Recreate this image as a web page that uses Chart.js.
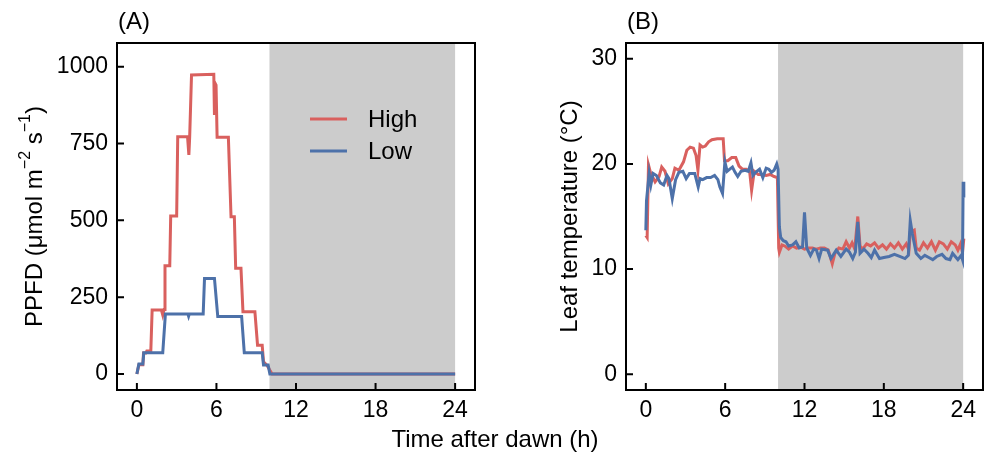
<!DOCTYPE html>
<html>
<head>
<meta charset="utf-8">
<script src="https://cdn.jsdelivr.net/npm/chart.js@4.4.1/dist/chart.umd.min.js"></script>
<style>
  html, body { margin: 0; padding: 0; background: #fff; }
  #wrap { position: relative; width: 987px; height: 460px; }
  #wrap canvas { position: absolute; left: 0; top: 0; }
</style>
</head>
<body>
<div id="wrap">
  <canvas id="ppfdChart" width="987" height="460"></canvas>
  <canvas id="tempChart" width="987" height="460"></canvas>
</div>
<script>
const FONT = "'Liberation Sans', Arial, sans-serif";
const RED = '#d9605e';
const BLUE = '#4d71a9';

// tick labels
const hourTicks = [0, 6, 12, 18, 24];
const ppfdTicks = [0, 250, 500, 750, 1000];
const tempTicks = [0, 10, 20, 30];

// dark period (h after dawn)
const nightStart = 10;
const nightEnd = 24;

// (A) PPFD, umol m-2 s-1
const ppfdHighTime = [0, 0.15, 0.45, 0.5, 0.68, 0.75, 1.05, 1.15, 1.85, 1.95, 2.05, 2.12, 2.48, 2.55, 3.0, 3.08, 3.82, 3.92, 3.98, 4.12,
  5.8, 5.85, 5.9, 5.97, 6.05, 6.9, 7.1, 7.35, 7.45, 7.85, 8.0, 8.9, 9.1, 9.45, 9.55, 9.8, 10.2, 24];
const ppfdHigh = [0, 30, 30, 68, 68, 75, 75, 208, 208, 192, 210, 352, 352, 514, 514, 772, 772, 713, 770, 973,
  975, 843, 946, 940, 770, 770, 512, 512, 344, 344, 203, 203, 94, 94, 40, 29, 0, 0];
const ppfdLowTime = [0, 0.15, 0.45, 0.52, 1.95, 2.15, 3.85, 3.9, 3.95, 5.0, 5.1, 5.85, 6.1, 7.9, 8.1, 9.45, 9.55, 9.9, 10.03, 24];
const ppfdLow = [0, 33, 33, 69, 69, 195, 195, 188, 195, 195, 311, 311, 187, 187, 69, 69, 29, 29, 0, 0];

// (B) leaf temperature, deg C
const tempHighTime = [0, 0.1, 0.2, 0.35, 0.7, 1.0, 1.2, 1.45, 1.7, 2.0, 2.2, 2.5, 2.85, 3.1, 3.35, 3.6, 3.8, 3.94, 4.1, 4.3,
  4.5, 4.75, 5.0, 5.4, 5.85, 5.95, 6.2, 6.5, 6.8, 7.05, 7.3, 7.6, 7.85, 8.0, 8.2, 8.5, 8.8, 9.1, 9.4, 9.7,
  9.95, 10.05, 10.1, 10.3, 10.5, 10.8, 11.1, 11.4, 11.7, 12.0, 12.3, 12.6, 12.9, 13.2, 13.5, 13.8, 14.1, 14.3, 14.6, 14.9,
  15.15, 15.4, 15.6, 15.8, 16.03, 16.2, 16.4, 16.7, 17.0, 17.3, 17.6, 17.9, 18.2, 18.5, 18.8, 19.1, 19.4, 19.7, 19.9, 20.0,
  20.3, 20.45, 20.7, 21.0, 21.3, 21.6, 21.9, 22.2, 22.5, 22.8, 23.1, 23.4, 23.6, 23.8, 23.95, 24.05];
const tempHigh = [13.2, 13.0, 19.9, 19.2, 18.3, 18.8, 19.7, 19.3, 18.1, 18.6, 19.6, 19.4, 20.2, 21.3, 21.6, 21.5, 20.8, 19.4, 21.8, 21.6,
  21.7, 22.1, 22.3, 22.4, 22.4, 20.3, 20.3, 20.6, 20.6, 19.8, 19.5, 19.5, 19.3, 17.5, 19.3, 19.0, 19.0, 18.9, 19.0, 18.8,
  18.7, 12.0, 11.6, 12.3, 12.2, 11.9, 12.2, 12.0, 12.1, 11.9, 12.0, 12.0, 11.9, 12.0, 12.0, 11.8, 10.5, 11.5, 12.0, 11.9,
  12.6, 12.0, 12.5, 11.9, 15.0, 12.2, 11.9, 12.4, 12.2, 12.5, 12.0, 12.3, 11.9, 12.4, 12.0, 12.5, 11.9, 12.4, 11.8, 13.5,
  13.7, 12.0, 11.8, 12.5, 12.0, 12.6, 11.8, 12.6, 12.4, 11.9, 12.6, 12.3, 11.8, 12.4, 11.6, 12.9];
const tempLowTime = [0, 0.05, 0.25, 0.38, 0.55, 0.8, 1.1, 1.35, 1.6, 1.75, 2.0, 2.25, 2.5, 2.8, 3.05, 3.3, 3.7, 3.96, 4.1, 4.3,
  4.6, 4.9, 5.2, 5.45, 5.6, 5.8, 5.98, 6.15, 6.35, 6.55, 6.75, 6.95, 7.2, 7.5, 7.75, 7.95, 8.1, 8.3, 8.6, 8.85,
  9.1, 9.3, 9.5, 9.7, 9.9, 10.0, 10.1, 10.2, 10.4, 10.6, 10.8, 11.1, 11.35, 11.6, 11.85, 12.0, 12.17, 12.45, 12.7, 12.9,
  13.1, 13.3, 13.75, 14.0, 14.4, 14.75, 15.15, 15.4, 15.65, 15.85, 16.03, 16.2, 16.5, 16.8, 17.05, 17.3, 17.67, 18.0, 18.4, 18.8,
  19.2, 19.6, 19.85, 20.0, 20.15, 20.45, 20.8, 21.1, 21.4, 21.7, 22.0, 22.4, 22.7, 23.0, 23.2, 23.4, 23.6, 23.85, 23.95, 24.0, 24.05];
const tempLow = [13.7, 16.5, 19.1, 18.0, 19.1, 18.9, 18.2, 18.0, 18.9, 18.6, 16.7, 18.5, 19.2, 19.3, 18.6, 19.1, 19.1, 17.8, 18.6, 18.5,
  18.7, 18.7, 18.9, 18.5, 17.8, 17.2, 20.2, 19.3, 19.5, 19.7, 19.2, 18.8, 19.3, 19.4, 19.3, 20.1, 18.9, 19.2, 19.5, 18.7,
  19.6, 19.5, 19.2, 19.4, 20.0, 19.5, 14.0, 13.0, 12.7, 12.6, 12.2, 12.3, 12.6, 12.0, 12.1, 15.4, 12.0, 11.3, 11.9, 11.8,
  11.0, 11.9, 11.8, 11.0, 11.8, 11.2, 11.9, 11.6, 11.0, 11.6, 14.5, 11.5, 11.9, 11.5, 11.1, 11.8, 11.0, 11.1, 11.2, 11.4,
  11.2, 11.0, 11.3, 14.6, 13.4, 11.5, 11.0, 11.3, 11.1, 10.9, 11.2, 11.4, 11.0, 10.9, 11.5, 11.2, 10.9, 11.3, 10.9, 18.3, 16.8];

function pts(ts, vs) {
  return ts.map((t, i) => ({ x: t, y: vs[i] }));
}

// draw a line of text where some parts are superscripts
function drawRich(ctx, parts, cx, cy, size, rotate) {
  const big = `${size}px ${FONT}`;
  const small = `${Math.round(size * 0.68)}px ${FONT}`;
  ctx.save();
  ctx.translate(cx, cy);
  if (rotate) ctx.rotate(-Math.PI / 2);
  let total = 0;
  parts.forEach(p => {
    ctx.font = p.sup ? small : big;
    p.w = ctx.measureText(p.t).width;
    total += p.w;
  });
  let x = -total / 2;
  ctx.fillStyle = '#000';
  ctx.textBaseline = 'middle';
  ctx.textAlign = 'left';
  parts.forEach(p => {
    ctx.font = p.sup ? small : big;
    ctx.fillText(p.t, x, p.sup ? -size * 0.38 : 0);
    x += p.w;
  });
  ctx.restore();
}

const panelDeco = {
  id: 'panelDeco',
  beforeDatasetsDraw(chart, args, opts) {
    const { ctx, chartArea: a, scales: { x } } = chart;
    const x0 = x.getPixelForValue(nightStart);
    const x1 = x.getPixelForValue(nightEnd);
    ctx.save();
    ctx.fillStyle = '#cccccc';
    ctx.fillRect(x0, a.top, x1 - x0, a.bottom - a.top);
    ctx.restore();
  },
  afterDraw(chart, args, opts) {
    const { ctx, chartArea: a, scales: { x, y } } = chart;
    ctx.save();
    ctx.strokeStyle = '#000';
    ctx.lineWidth = 2;
    ctx.strokeRect(a.left, a.top, a.right - a.left, a.bottom - a.top);
    // inward tick marks
    ctx.beginPath();
    x.ticks.forEach(t => {
      const px = x.getPixelForValue(t.value);
      ctx.moveTo(px, a.bottom);
      ctx.lineTo(px, a.bottom - 7);
    });
    y.ticks.forEach(t => {
      const py = y.getPixelForValue(t.value);
      ctx.moveTo(a.left, py);
      ctx.lineTo(a.left + 7, py);
    });
    ctx.stroke();

    ctx.fillStyle = '#000';
    ctx.font = `24px ${FONT}`;
    ctx.textBaseline = 'middle';
    ctx.textAlign = 'left';
    ctx.fillText(opts.label, a.left + 1, 22);

    drawRich(ctx, opts.yTitle, opts.yTitleX, (a.top + a.bottom) / 2, 24, true);

    if (opts.xTitle) {
      drawRich(ctx, [{ t: opts.xTitle }], 495, 440, 24, false);
    }

    if (opts.legend) {
      chart.data.datasets.forEach((ds, i) => {
        const ly = 119 + i * 32;
        ctx.strokeStyle = ds.borderColor;
        ctx.lineWidth = 3;
        ctx.beginPath();
        ctx.moveTo(310, ly);
        ctx.lineTo(347, ly);
        ctx.stroke();
        ctx.fillStyle = '#000';
        ctx.fillText(ds.label, 368, ly + 1);
      });
    }
    ctx.restore();
  }
};

function makeChart(id, cfg) {
  const tickFont = { family: FONT, size: 23 };
  return new Chart(document.getElementById(id), {
    type: 'line',
    data: {
      datasets: [
        { label: 'High', data: cfg.high, borderColor: RED, borderWidth: 3, pointRadius: 0, tension: 0, order: 2 },
        { label: 'Low', data: cfg.low, borderColor: BLUE, borderWidth: 3, pointRadius: 0, tension: 0, order: 1 }
      ]
    },
    options: {
      responsive: false,
      animation: false,
      layout: { padding: cfg.pad },
      plugins: { legend: { display: false }, tooltip: { enabled: false }, panelDeco: cfg.deco },
      scales: {
        x: {
          type: 'linear', min: -1.5, max: 25.5,
          afterBuildTicks: s => { s.ticks = hourTicks.map(v => ({ value: v })); },
          afterFit: s => { s.height = 50; },
          grid: { display: false, drawTicks: false },
          border: { display: false },
          ticks: { font: tickFont, color: '#000', padding: 7, maxRotation: 0, autoSkip: false, callback: v => String(v) }
        },
        y: {
          type: 'linear', min: cfg.yMin, max: cfg.yMax,
          afterBuildTicks: s => { s.ticks = cfg.yTicks.map(v => ({ value: v })); },
          afterFit: s => { s.width = 80; },
          grid: { display: false, drawTicks: false },
          border: { display: false },
          ticks: { font: tickFont, color: '#000', padding: 9, autoSkip: false, callback: v => String(v) }
        }
      }
    },
    plugins: [panelDeco]
  });
}

makeChart('ppfdChart', {
  high: pts(ppfdHighTime, ppfdHigh),
  low: pts(ppfdLowTime, ppfdLow),
  yMin: -52, yMax: 1077, yTicks: ppfdTicks,
  pad: { left: 117 - 80, right: 987 - 475, top: 43, bottom: 460 - 390 - 50 },
  deco: {
    label: '(A)', yTitleX: 35, legend: true, xTitle: 'Time after dawn (h)',
    yTitle: [{ t: 'PPFD (\u03bcmol m' }, { t: '\u22122', sup: true }, { t: ' s' }, { t: '\u22121', sup: true }, { t: ')' }]
  }
});

makeChart('tempChart', {
  high: pts(tempHighTime, tempHigh),
  low: pts(tempLowTime, tempLow),
  yMin: -1.5, yMax: 31.5, yTicks: tempTicks,
  pad: { left: 626 - 80, right: 987 - 983, top: 43, bottom: 460 - 390 - 50 },
  deco: {
    label: '(B)', yTitleX: 570, legend: false,
    yTitle: [{ t: 'Leaf temperature (\u00b0C)' }]
  }
});
</script>
</body>
</html>
